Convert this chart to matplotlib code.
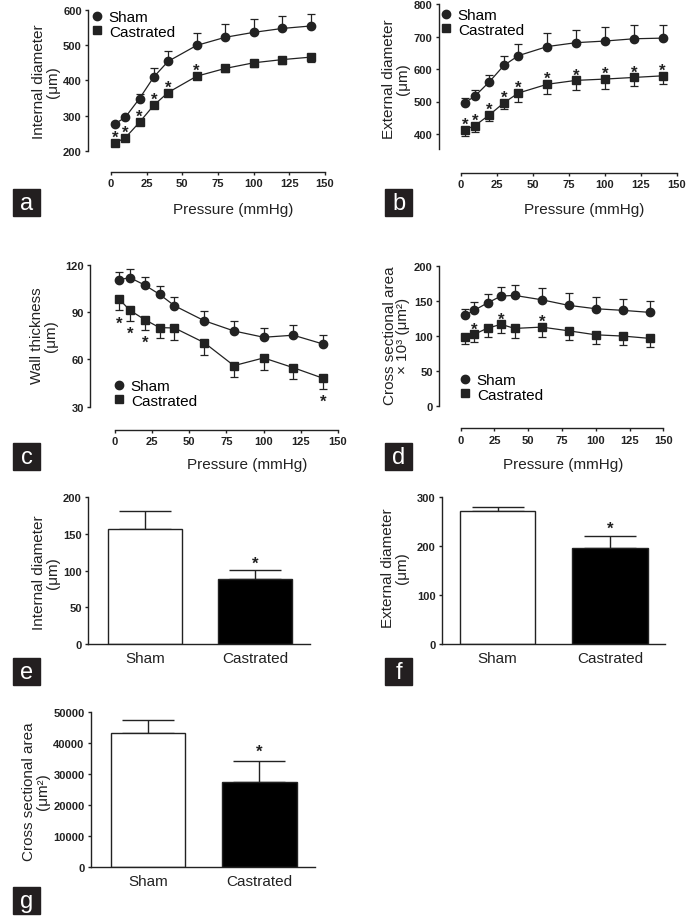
import numpy as np
import matplotlib
matplotlib.use('Agg')
import matplotlib.pyplot as plt
from matplotlib.lines import Line2D
from matplotlib.patches import Rectangle

plt.rcParams['font.family'] = ['Liberation Sans', 'DejaVu Sans']

# ---- data ----
pressure = [3, 10, 20, 30, 40, 60, 80, 100, 120, 140]

id_sham = [278, 296, 349, 410, 454, 499, 522, 536, 547, 554]
id_sham_sem = [4, 4, 14, 26, 30, 36, 38, 37, 36, 35]
id_cast = [224, 238, 282, 330, 366, 412, 434, 450, 459, 466]
id_cast_sem = [5, 5, 6, 7, 8, 9, 11, 13, 12, 13]
id_stars = [3, 10, 20, 30, 40, 60]

ed_sham = [496, 517, 561, 611, 641, 669, 681, 686, 693, 695]
ed_sham_sem = [15, 17, 21, 29, 37, 42, 40, 42, 41, 40]
ed_cast = [413, 426, 459, 496, 526, 553, 565, 569, 574, 579]
ed_cast_sem = [20, 20, 19, 19, 26, 29, 29, 29, 26, 26]
ed_stars = [3, 10, 20, 30, 40, 60, 80, 100, 120, 140]

wt_sham = [110.5, 111.8, 107.1, 101.2, 94.0, 84.5, 78.0, 74.0, 75.3, 69.7]
wt_sham_sem = [4.7, 5.7, 5.0, 5.0, 5.5, 6.2, 6.0, 6.0, 6.3, 6.0]
wt_cast = [98.0, 91.1, 85.2, 80.1, 79.9, 70.6, 56.0, 60.9, 54.7, 48.0]
wt_cast_sem = [7.0, 6.6, 6.4, 6.5, 7.4, 7.8, 7.5, 7.4, 7.3, 6.6]
wt_stars = [3, 10, 20, 140]

csa_sham = [129, 136.3, 147, 156.7, 157.6, 151.4, 143.4, 138.6, 136.3, 133.4]
csa_sham_sem = [9.6, 11.4, 12, 13, 15, 16.7, 17.2, 16.7, 16.6, 15.7]
csa_cast = [98.6, 102, 111, 116.3, 110.5, 112.4, 107.1, 101.4, 99.6, 96.3]
csa_cast_sem = [10.5, 10.6, 12.4, 12.4, 13.3, 14.3, 13.2, 12.8, 12.9, 12]
csa_stars = [10, 30, 60]

groups = ['Sham', 'Castrated']
bar_id = [157, 88]
bar_id_sem = [25, 13]
bar_ed = [271, 196]
bar_ed_sem = [9, 25]
bar_csa = [43300, 27300]
bar_csa_sem = [4300, 6800]

# ---- layout helpers (pixel coords of a 688x920 figure) ----
W, H = 688, 920
K = '#222222'

def rect(l, r, t, b):
    return [l / W, 1 - b / H, (r - l) / W, (b - t) / H]

def fx(x):
    return x / W

def fy(y):
    return 1 - y / H

fig = plt.figure(figsize=(W / 100, H / 100), dpi=100)

def style(ax):
    for s in ['top', 'right']:
        ax.spines[s].set_visible(False)
    for s in ['left', 'bottom']:
        ax.spines[s].set_color(K)
        ax.spines[s].set_linewidth(1.0)
    ax.tick_params(colors=K, width=1.0, length=2.5, labelsize=8, pad=2)
    for lab in ax.get_xticklabels() + ax.get_yticklabels():
        lab.set_fontweight('bold')


def line_panel(ax, xl, ylim, ybounds, yticks, sham, sham_sem, cast, cast_sem,
               stars, star_below, legend_xy):
    n = len(pressure)
    ax.errorbar(pressure, sham, yerr=[[0] * n, sham_sem], fmt='none',
                ecolor=K, elinewidth=0.9, capsize=3, capthick=0.9, zorder=2)
    ax.errorbar(pressure, cast, yerr=[cast_sem, [0] * n], fmt='none',
                ecolor=K, elinewidth=0.9, capsize=3, capthick=0.9, zorder=2)
    ax.plot(pressure, sham, '-o', color=K, lw=0.9, ms=6, zorder=3, clip_on=False)
    ax.plot(pressure, cast, '-s', color=K, lw=0.9, ms=6.3, zorder=3, clip_on=False)
    for p in stars:
        i = pressure.index(p)
        if star_below:
            ax.annotate('*', (p, cast[i] - cast_sem[i]), xytext=(0, -9),
                        textcoords='offset points', ha='center', va='center',
                        fontsize=12, fontweight='bold', color=K)
        else:
            ax.annotate('*', (p, cast[i]), xytext=(0, 4),
                        textcoords='offset points', ha='center', va='center',
                        fontsize=12, fontweight='bold', color=K)
    ax.set_xlim(xl, 150)
    ax.set_ylim(*ylim)
    ax.set_xticks([0, 25, 50, 75, 100, 125, 150])
    ax.set_yticks(yticks)
    ax.spines['bottom'].set_bounds(0, 150)
    ax.spines['left'].set_bounds(*ybounds)
    style(ax)
    handles = [Line2D([], [], marker='o', ls='none', color=K, ms=6),
               Line2D([], [], marker='s', ls='none', color=K, ms=6)]
    ax.legend(handles, ['Sham', 'Castrated'], loc='upper left',
              bbox_to_anchor=(fx(legend_xy[0]), fy(legend_xy[1])),
              bbox_transform=fig.transFigure, frameon=False, fontsize=11,
              handlelength=0.7, handletextpad=0.4, borderpad=0,
              borderaxespad=0, labelspacing=0.05)


def bar_panel(ax, vals, sems, xl, ylim, yticks, star_off):
    ax.bar([0, 1], vals, width=0.67, color=['white', 'black'],
           edgecolor=K, linewidth=1.0, zorder=2)
    ax.errorbar([0, 1], vals, yerr=[[0, 0], sems], fmt='none', ecolor=K,
                elinewidth=1.0, capsize=19, capthick=1.0, zorder=1)
    ax.annotate('*', (1, vals[1] + sems[1]), xytext=(0, star_off),
                textcoords='offset points', ha='center', va='center',
                fontsize=12, fontweight='bold', color=K)
    ax.set_xlim(*xl)
    ax.set_ylim(*ylim)
    ax.set_yticks(yticks)
    ax.set_xticks([0, 1])
    ax.set_xticklabels(groups)
    style(ax)
    ax.tick_params(axis='x', length=0, pad=5, labelsize=11)
    for lab in ax.get_xticklabels():
        lab.set_fontweight('normal')


# a
axa = fig.add_axes(rect(88, 325, 10.7, 173))
line_panel(axa, -16.1, (141.5, 600), (200, 600), [200, 300, 400, 500, 600],
           id_sham, id_sham_sem, id_cast, id_cast_sem, id_stars, False, (92, 11))
# b
axb = fig.add_axes(rect(439, 677, 5, 174))
line_panel(axb, -15, (280, 800), (355, 800), [400, 500, 600, 700, 800],
           ed_sham, ed_sham_sem, ed_cast, ed_cast_sem, ed_stars, False, (441, 9))
# c
axc = fig.add_axes(rect(90, 338, 265.7, 430.7))
line_panel(axc, -16.8, (15.4, 120), (30, 120), [30, 60, 90, 120],
           wt_sham, wt_sham_sem, wt_cast, wt_cast_sem, wt_stars, True, (114, 380))
# d
axd = fig.add_axes(rect(439, 663.3, 266.7, 429.3))
line_panel(axd, -16, (-32, 200), (0, 200), [0, 50, 100, 150, 200],
           csa_sham, csa_sham_sem, csa_cast, csa_cast_sem, csa_stars, False, (460, 374))

# e, f, g
axe = fig.add_axes(rect(88, 310, 498.3, 645))
bar_panel(axe, bar_id, bar_id_sem, (-0.517, 1.496), (0, 200), [0, 50, 100, 150, 200], 5)
axf = fig.add_axes(rect(441.7, 665, 498.3, 645))
bar_panel(axf, bar_ed, bar_ed_sem, (-0.497, 1.49), (0, 300), [0, 100, 200, 300], 5.5)
axg = fig.add_axes(rect(90.7, 315, 713.3, 867.7))
bar_panel(axg, bar_csa, bar_csa_sem, (-0.515, 1.50), (0, 50000),
          [0, 10000, 20000, 30000, 40000, 50000], 7.5)

# axis titles
ylabels = [
    ('Internal diameter\n(\u03bcm)', 46, 82),
    ('External diameter\n(\u03bcm)', 396, 79),
    ('Wall thickness\n(\u03bcm)', 44, 336),
    ('Cross sectional area\n\u00d7 10\u00b3 (\u03bcm\u00b2)', 396.5, 336),
    ('Internal diameter\n(\u03bcm)', 46, 573),
    ('External diameter\n(\u03bcm)', 395, 568),
    ('Cross sectional area\n(\u03bcm\u00b2)', 36, 792),
]
for txt, x, y in ylabels:
    fig.text(fx(x), fy(y), txt, rotation=90, ha='center', va='center',
             multialignment='center', fontsize=11, color=K, linespacing=1.0)

for x, y in [(233, 210), (584.5, 210), (247.5, 465), (563, 465)]:
    fig.text(fx(x), fy(y), 'Pressure (mmHg)', ha='center', va='center',
             fontsize=11, color=K)

# panel letters
letters = [('a', 13, 190), ('b', 385, 190), ('c', 13, 444), ('d', 385, 444),
           ('e', 13, 659), ('f', 385, 659), ('g', 13, 888)]
for s, x, y in letters:
    fig.patches.append(Rectangle((fx(x), fy(y + 27)), 27 / W, 27 / H,
                                 transform=fig.transFigure, color='#231f20',
                                 zorder=5))
    fig.text(fx(x + 13.5), fy(y + 14), s, ha='center', va='center',
             fontsize=17, color='white', zorder=6)

fig.savefig('out.png', dpi=100)
